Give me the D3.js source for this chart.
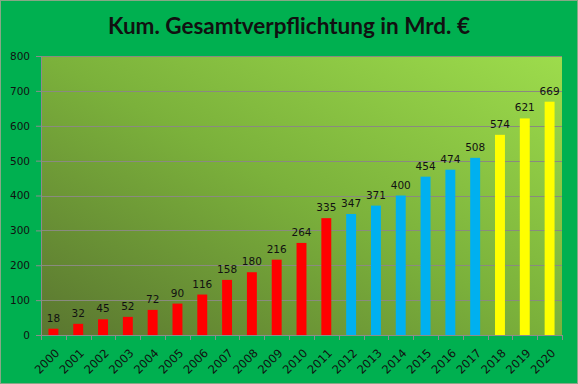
<!DOCTYPE html>
<html><head><meta charset="utf-8">
<script src="https://cdn.jsdelivr.net/npm/d3@7"></script>
<style>html,body{margin:0;padding:0;background:#00b050;}svg{display:block}</style>
</head><body><svg id="c" width="578" height="384"></svg>
<script>
const years = ["2000","2001","2002","2003","2004","2005","2006","2007","2008","2009","2010","2011","2012","2013","2014","2015","2016","2017","2018","2019","2020"];
const values = [18,32,45,52,72,90,116,158,180,216,264,335,347,371,400,454,474,508,574,621,669];
const groups = ["a","a","a","a","a","a","a","a","a","a","a","a","b","b","b","b","b","b","c","c","c"];
const groupColors = {a:"#ff0000", b:"#00b0f0", c:"#ffff00"};
const yTicks = [0,100,200,300,400,500,600,700,800];
const title = "Kum. Gesamtverpflichtung in Mrd. €";

const W=578,H=384;
const m={l:41,r:16,t:56,b:49};
const svg=d3.select("#c");
svg.append("rect").attr("x",0.5).attr("y",0.5).attr("width",W-1).attr("height",H-1).attr("fill","#00b050").attr("stroke","#86a886");
const defs=svg.append("defs");
const g1=defs.append("linearGradient").attr("id","bg").attr("x1","0").attr("y1","1").attr("x2","1").attr("y2","0");
g1.append("stop").attr("offset","0").attr("stop-color","#5a7630");
g1.append("stop").attr("offset","0.5").attr("stop-color","#7bb13b");
g1.append("stop").attr("offset","1").attr("stop-color","#9ddc4c");

const x=d3.scaleBand().domain(years).range([m.l,W-m.r]).paddingInner(0.6).paddingOuter(0.3);
const y=d3.scaleLinear().domain([0,800]).range([H-m.b,m.t]);

svg.append("rect").attr("x",m.l).attr("y",m.t).attr("width",W-m.r-m.l).attr("height",H-m.b-m.t).attr("fill","url(#bg)");

svg.append("text").attr("x",289).attr("y",34).attr("text-anchor","middle")
 .attr("font-family","Lato, 'Open Sans', sans-serif").attr("font-weight","bold").attr("font-size","22.5px").attr("fill","#111").text(title);

// gridlines
svg.append("g").selectAll("line").data(yTicks.slice(1)).join("line")
 .attr("x1",m.l).attr("x2",W-m.r).attr("y1",d=>Math.round(y(d))+0.5).attr("y2",d=>Math.round(y(d))+0.5)
 .attr("stroke","#8a8a80").attr("stroke-width",1);

// y axis
const ya=svg.append("g").attr("transform",`translate(${m.l},0)`)
 .call(d3.axisLeft(y).tickValues(yTicks).tickSize(5).tickPadding(6));
ya.select(".domain").attr("stroke","#8c8c8c");
ya.selectAll(".tick line").attr("stroke","#8c8c8c");
ya.selectAll("text").attr("font-family","'DejaVu Sans', Verdana, sans-serif").attr("font-size","10.5px").attr("fill","#111");

// bars
svg.append("g").selectAll("rect").data(values).join("rect")
 .attr("x",(d,i)=>x(years[i])).attr("width",x.bandwidth())
 .attr("y",d=>y(d)).attr("height",d=>y(0)-y(d))
 .attr("fill",(d,i)=>groupColors[groups[i]]);

// data labels
svg.append("g").selectAll("text").data(values).join("text")
 .attr("x",(d,i)=>x(years[i])+x.bandwidth()/2).attr("y",d=>y(d)-7)
 .attr("text-anchor","middle").attr("font-family","'DejaVu Sans', Verdana, sans-serif").attr("font-size","10.5px").attr("fill","#111")
 .text(d=>d);

// x axis
const xa=svg.append("g").attr("transform",`translate(0,${y(0)})`);
xa.append("line").attr("x1",m.l).attr("x2",W-m.r).attr("y1",0.5).attr("y2",0.5).attr("stroke","#8c8c8c");
const bounds=d3.range(years.length+1).map(i=>m.l+ (W-m.r-m.l)*i/years.length);
xa.selectAll("line.t").data(bounds).join("line").attr("class","t")
 .attr("x1",d=>Math.round(d)+0.5).attr("x2",d=>Math.round(d)+0.5).attr("y1",0).attr("y2",5).attr("stroke","#8c8c8c");
xa.selectAll("text").data(years).join("text")
 .attr("transform",d=>`translate(${x(d)+x.bandwidth()/2+1},${13}) rotate(-45)`)
 .attr("text-anchor","end").attr("dy","0.7em")
 .attr("font-family","'DejaVu Sans', Verdana, sans-serif").attr("font-size","11.5px").attr("fill","#111")
 .text(d=>d);
</script></body></html>
